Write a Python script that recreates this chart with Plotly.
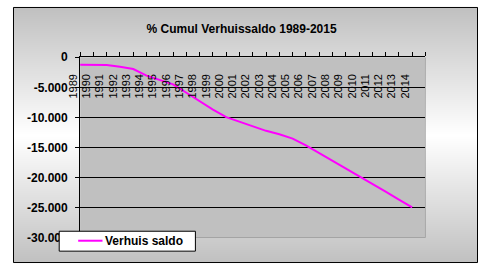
import plotly.graph_objects as go

# ---- data ----
years = list(range(1989, 2015))
values = [-1260, -1260, -1300, -1570, -1960, -3060, -3770, -4500, -5900, -7320,
          -8690, -9940, -10680, -11440, -12220, -12800, -13510, -14650, -15910,
          -17220, -18520, -19790, -21030, -22320, -23650, -24950]
tick_years = list(range(1989, 2016))
tick_labels = [str(y) for y in years] + [""]
y_ticks = [0, -5000, -10000, -15000, -20000, -25000, -30000]
y_labels = ["0", "-5.000", "-10.000", "-15.000", "-20.000", "-25.000", "-30.000"]
series_name = "Verhuis saldo"
chart_title = "% Cumul Verhuissaldo 1989-2015"

W, H = 478, 270
FONT = "Liberation Sans"
MAGENTA = "#ff00ff"

fig = go.Figure()

# background gradient (grey - white - grey, vertical)
fig.add_trace(go.Heatmap(
    x=[0, 1], y=[0, 0.5, 1], z=[[0, 0], [1, 1], [0, 0]],
    colorscale=[[0, "#c0c0c0"], [1, "#ffffff"]],
    showscale=False, zsmooth="best", hoverinfo="skip",
    xaxis="x", yaxis="y", showlegend=False,
))

fig.add_trace(go.Scatter(
    x=years, y=values, mode="lines", name=series_name,
    line=dict(color=MAGENTA, width=2),
    xaxis="x2", yaxis="y2", showlegend=False,
))

x0p, x1p = 69 / W, 424 / W
y0p, y1p = 1 - 243.5 / H, 1 - 53 / H

# legend box geometry (pixels)
lg_l, lg_r, lg_t, lg_b = 47, 187, 236, 257
lg_mid = (lg_t + lg_b) / 2

fig.update_layout(
    width=W, height=H,
    margin=dict(l=0, r=0, t=0, b=0),
    paper_bgcolor="#ffffff",
    plot_bgcolor="rgba(0,0,0,0)",
    font=dict(family=FONT, color="black"),
    showlegend=False,
    title=dict(text=chart_title, x=235 / W, y=1 - 23.5 / H, xanchor="center", yanchor="middle",
               xref="paper", yref="paper",
               font=dict(family=FONT, size=12, weight="bold", color="black")),
    xaxis=dict(domain=[0, 1], range=[0, 1], visible=False, fixedrange=True),
    yaxis=dict(domain=[0, 1], range=[0, 1], visible=False, fixedrange=True),
    xaxis2=dict(
        domain=[x0p, x1p], range=[1989, 2015], anchor="y2", side="top",
        tickmode="array", tickvals=tick_years, ticktext=tick_labels,
        ticks="outside", ticklen=4, tickcolor="black", tickwidth=1,
        showline=True, linecolor="black", linewidth=1,
        showgrid=False, zeroline=False,
        tickangle=-90, ticklabelposition="inside", ticklabeloverflow="allow",
        ticklabelshift=-7, ticklabelstandoff=10,
        tickfont=dict(family=FONT, size=11, color="black"),
    ),
    yaxis2=dict(
        domain=[y0p, y1p], range=[-30000, 0], anchor="x2",
        tickmode="array", tickvals=y_ticks, ticktext=y_labels,
        ticks="outside", ticklen=4, tickcolor="black", tickwidth=1,
        showline=True, linecolor="black", linewidth=1,
        showgrid=True, gridcolor="black", gridwidth=1, zeroline=False,
        ticklabelstandoff=5,
        tickfont=dict(family=FONT, size=12, weight="bold", color="black"),
    ),
    shapes=[
        dict(type="rect", xref="x2", yref="y2", x0=1989, x1=2015, y0=-30000, y1=0,
             fillcolor="#c0c0c0", line=dict(width=0), layer="below"),
        dict(type="line", xref="x2", yref="y2", x0=2015, x1=2015, y0=-30000, y1=0,
             line=dict(color="#808080", width=1), layer="above"),
        dict(type="line", xref="x2", yref="y2", x0=1989, x1=2015, y0=-30000, y1=-30000,
             line=dict(color="#808080", width=1), layer="above"),
        # legend box
        dict(type="rect", xref="paper", yref="paper",
             x0=(lg_l + 0.5) / W, x1=(lg_r + 0.5) / W,
             y0=1 - (lg_b + 0.5) / H, y1=1 - (lg_t + 0.5) / H,
             fillcolor="white", line=dict(color="black", width=1), layer="above"),
        dict(type="line", xref="paper", yref="paper",
             x0=67 / W, x1=92 / W, y0=1 - lg_mid / H, y1=1 - lg_mid / H,
             line=dict(color=MAGENTA, width=2), layer="above"),
        # outer border
        dict(type="rect", xref="paper", yref="paper",
             x0=0.5 / W, x1=(W - 0.5) / W, y0=0.5 / H, y1=(H - 0.5) / H,
             line=dict(color="black", width=1), fillcolor="rgba(0,0,0,0)", layer="above"),
    ],
    annotations=[
        dict(text=series_name, xref="paper", yref="paper", x=93 / W, y=1 - lg_mid / H,
             xanchor="left", yanchor="middle", showarrow=False,
             font=dict(family=FONT, size=12, weight="bold", color="black")),
    ],
)

fig.write_html("out.html")
